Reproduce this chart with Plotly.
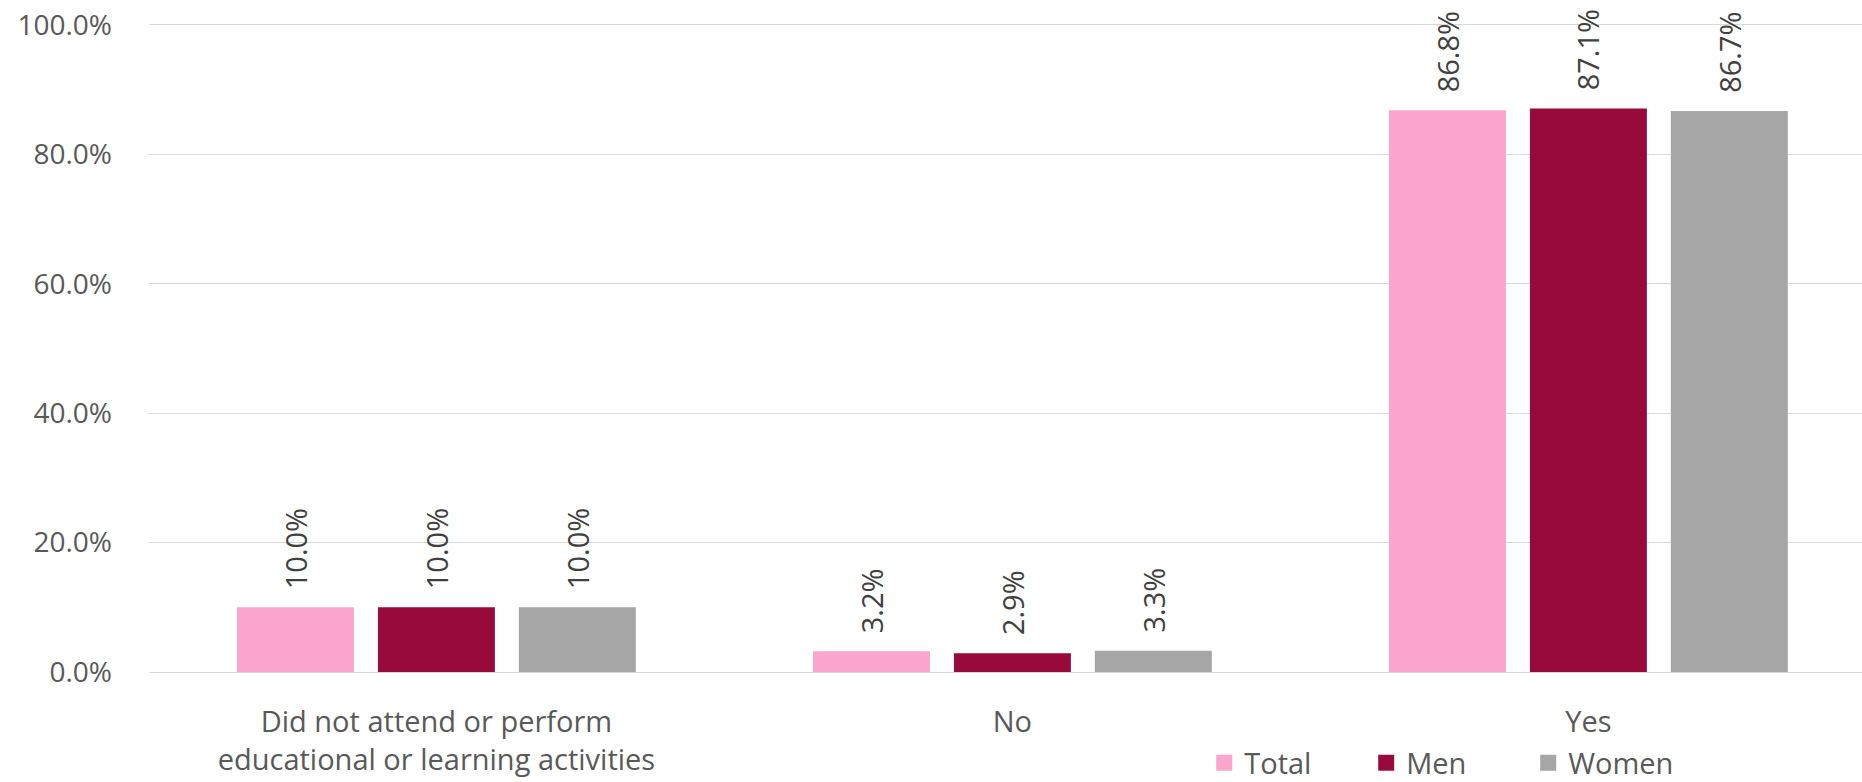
import plotly.graph_objects as go

categories = ["Did not attend or perform<br>educational or learning activities", "No", "Yes"]
series_names = ["Total", "Men", "Women"]
total = [0.100, 0.032, 0.868]
men = [0.100, 0.029, 0.871]
women = [0.100, 0.033, 0.867]
colors = ["#FCA6CD", "#990A3C", "#A6A6A6"]
y_ticks = [0, 0.2, 0.4, 0.6, 0.8, 1.0]
y_tick_labels = ["0.0%", "20.0%", "40.0%", "60.0%", "80.0%", "100.0%"]

values = [total, men, women]
FONT = "Open Sans"
bargap = 0.266
slot = (1 - bargap) / 3

fig = go.Figure()
annotations = []
for i, (name, vals, col) in enumerate(zip(series_names, values, colors)):
    fig.add_trace(go.Bar(x=categories, y=vals, name=name, marker_color=col,
                         marker_line_width=0, showlegend=False, hoverinfo="skip"))
    # legend proxies with larger square symbols
    fig.add_trace(go.Scatter(x=[None], y=[None], mode="markers", name=name,
                             marker=dict(symbol="square", size=20, color=col)))
    for j, v in enumerate(vals):
        annotations.append(dict(
            x=j + (i - 1) * slot, y=v, xref="x", yref="y",
            text=f"{v*100:.1f}%", showarrow=False, textangle=-90,
            xanchor="center", yanchor="bottom", yshift=16,
            font=dict(family=FONT, size=29, color="#404040")))

fig.update_layout(
    width=1862, height=782,
    margin=dict(l=149, r=0, t=23, b=110, autoexpand=False),
    paper_bgcolor="white", plot_bgcolor="white",
    barmode="group", bargap=bargap, bargroupgap=0.17,
    font=dict(family=FONT, size=29, color="#595959"),
    annotations=annotations,
    legend=dict(orientation="h", x=0.616, xanchor="left", y=-0.14, yanchor="middle",
                font=dict(family=FONT, size=29, color="#595959"),
                entrywidth=117, entrywidthmode="pixels", itemwidth=30, tracegroupgap=0),
)
fig.update_xaxes(range=[-0.499, 2.475], showgrid=False, showline=False, ticks="",
                 automargin=False, ticklabelstandoff=30,
                 tickfont=dict(family=FONT, size=29, color="#595959"))
fig.update_yaxes(range=[0, 1.003], tickvals=y_ticks, ticktext=y_tick_labels,
                 showgrid=True, gridcolor="#D9D9D9", gridwidth=1.3,
                 zeroline=True, zerolinecolor="#D9D9D9", zerolinewidth=1.3,
                 showline=False, ticks="", ticklabelstandoff=36, automargin=False,
                 ticklabeloverflow="allow",
                 tickfont=dict(family=FONT, size=28, color="#595959"))

# remove the default page margin so the figure fills the window exactly
fig.write_html("out.html", config={"displayModeBar": False},
               post_script="document.body.style.margin='0';")
